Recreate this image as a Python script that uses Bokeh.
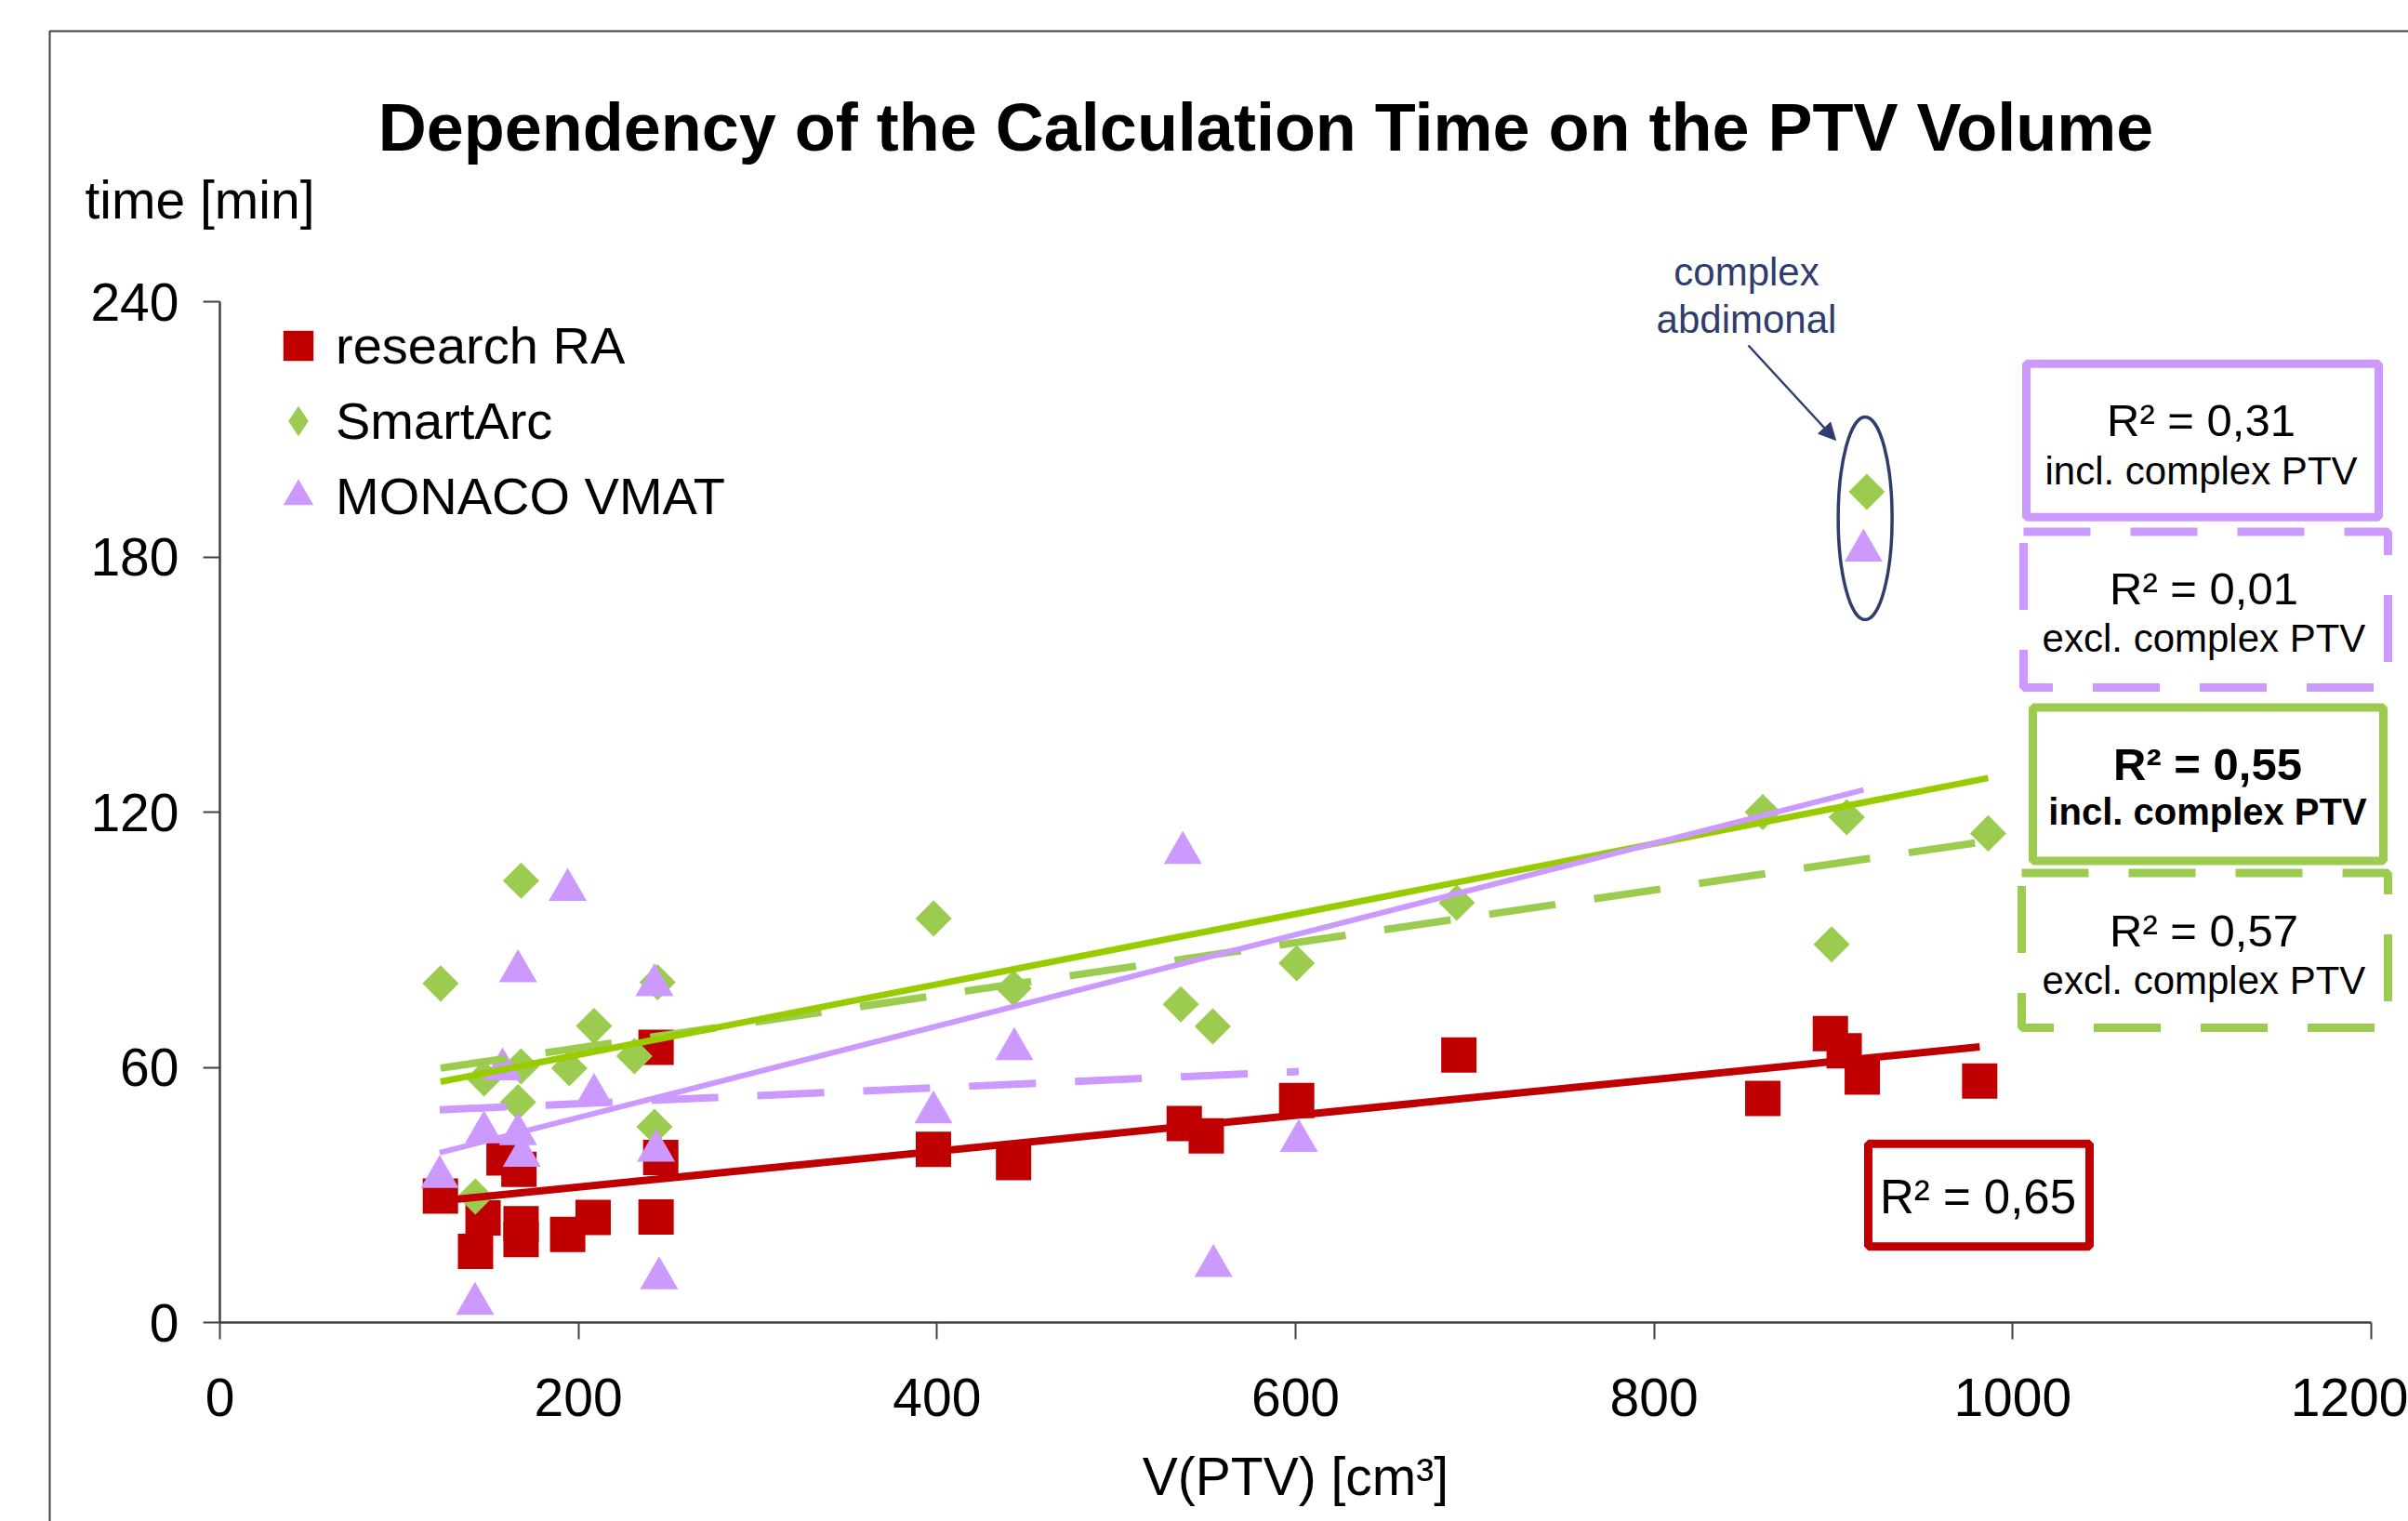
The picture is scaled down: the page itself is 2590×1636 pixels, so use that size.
import math
from bokeh.plotting import figure
from bokeh.models import (Range1d, FixedTicker, Label, BoxAnnotation, Arrow, NormalHead,
                          Legend, LegendItem)
from bokeh.embed import file_html
from bokeh.resources import INLINE

# ---------------- data ----------------
x_ticks = [0, 200, 400, 600, 800, 1000, 1200]
y_ticks = [0, 60, 120, 180, 240]

series_names = ["research RA", "SmartArc", "MONACO VMAT"]

ra_x = [123.0, 142.6, 146.8, 158.5, 166.8, 168.0, 168.0, 194.0, 208.2, 243.3, 243.3, 245.9,
        398.0, 442.7, 537.9, 550.2, 600.6, 691.1, 860.6, 898.3, 906.0, 916.1, 981.6]
ra_y = [29.7, 16.7, 24.6, 38.7, 36.0, 23.2, 19.5, 20.7, 24.7, 64.7, 24.8, 38.8,
        40.7, 37.6, 46.8, 43.9, 52.2, 62.9, 52.7, 67.9, 63.9, 57.7, 56.8]

sa_x = [123.1, 142.5, 147.3, 166.3, 168.0, 168.0, 194.9, 208.7, 231.2, 242.4, 244.1,
        398.1, 442.7, 536.0, 553.8, 600.6, 689.9, 860.6, 899.0, 907.4, 918.6, 986.3]
sa_y = [79.7, 29.6, 57.4, 51.8, 60.2, 103.9, 59.8, 69.7, 62.6, 46.0, 80.0,
        95.0, 78.6, 74.8, 69.6, 84.5, 98.7, 120.0, 88.9, 118.8, 195.3, 115.0]

mo_x = [122.6, 142.3, 147.3, 157.7, 166.3, 166.3, 168.4, 194.0, 208.7, 242.4, 243.3, 245.0,
        398.0, 443.1, 537.1, 554.2, 601.8, 916.8]
mo_y = [35.5, 5.7, 46.0, 60.8, 83.9, 45.6, 40.5, 103.0, 54.8, 80.6, 41.7, 11.7,
        50.7, 65.6, 111.7, 14.6, 44.0, 182.8]

SA_COMPLEX = 20   # index of the complex abdominal case in SmartArc
MO_COMPLEX = 17   # index of the complex abdominal case in MONACO VMAT

# linear trend lines: value at first and last x of the fitted set
ra_fit = [28.6, 64.8]
sa_fit_incl = [56.6, 128.0]
sa_fit_excl = [59.8, 113.2]
mo_fit_incl = [39.9, 125.2]
mo_fit_excl = [50.0, 59.0]

r2_texts = ["R² = 0,31", "R² = 0,01", "R² = 0,55", "R² = 0,57"]
r2_notes = ["incl. complex PTV", "excl. complex PTV", "incl. complex PTV", "excl. complex PTV"]
r2_ra_text = "R² = 0,65"

# ---------------- style / layout ----------------
RED = "#C00000"
GREEN = "#9BCC50"
GREEN_LINE = "#99CC00"
PURPLE = "#CC99FF"
NAVY = "#313C6E"
AXIS = "#404040"
FONT = "Liberation Sans"

W, H = 2590, 1636
ORIG_X, ORIG_Y = 236, 1422          # page position of the (0, 0) corner of the axes
AX_X_PX = 2314.0                    # pixel length of 0..1200
AX_Y_PX = 1098.0                    # pixel length of 0..240
sx = AX_X_PX / 1200.0
sy = AX_Y_PX / 240.0
BASE_FIX = 0.38                     # label baseline correction (fraction of font size)


def ux(px):
    return (px - ORIG_X) / sx


def uy(py):
    return (ORIG_Y - py) / sy


def text_label(px, base, text, size, color="black", style="normal", align="center"):
    return Label(x=ux(px), y=uy(base - BASE_FIX * size), text=text, text_font=FONT,
                 text_font_size=f"{size}px", text_font_style=style, text_color=color,
                 text_align=align, text_baseline="alphabetic")


p = figure(width=W, height=H, x_range=Range1d(ux(0), ux(W)), y_range=Range1d(uy(H), uy(0)),
           output_backend="svg", toolbar_location=None, min_border=0)
p.outline_line_color = None
p.grid.visible = False
p.background_fill_color = "white"
p.border_fill_color = "white"

for ax in (p.xaxis[0], p.yaxis[0]):
    ax.fixed_location = 0
    ax.axis_line_color = AXIS
    ax.axis_line_width = 2.5
    ax.major_tick_line_color = AXIS
    ax.major_tick_line_width = 2
    ax.major_tick_out = 18
    ax.major_tick_in = 0
    ax.minor_tick_line_color = None
    ax.major_label_text_font = FONT
    ax.major_label_text_font_size = "57px"
    ax.major_label_text_color = "black"

p.xaxis.bounds = (0, 1200)
p.yaxis.bounds = (0, 240)
p.xaxis.ticker = FixedTicker(ticks=x_ticks)
p.yaxis.ticker = FixedTicker(ticks=y_ticks)
p.xaxis.major_label_standoff = 42
p.yaxis.major_label_standoff = 26
p.xaxis.axis_label = "V(PTV) [cm³]"
p.xaxis.axis_label_text_font = FONT
p.xaxis.axis_label_text_font_size = "57px"
p.xaxis.axis_label_text_font_style = "normal"
p.xaxis.axis_label_text_color = "black"
p.xaxis.axis_label_standoff = 30

# ---------------- markers ----------------
TRI_SIZE = 41
tri_shift = (TRI_SIZE * math.sqrt(3) / 2 / 6) / sy
mo_y_plot = [v - tri_shift for v in mo_y]

r_ra = p.scatter(ra_x, ra_y, marker="square", size=38, fill_color=RED, line_color=None)
# diamond glyph for the legend key (hidden beneath the first SmartArc marker)
legend_sa = p.scatter(sa_x[:1], sa_y[:1], marker="diamond", size=38, fill_color=GREEN, line_color=None)
r_sa = p.scatter(sa_x, sa_y, marker="square", angle=math.pi / 4, size=27.6,
                 fill_color=GREEN, line_color=None)
r_mo = p.scatter(mo_x, mo_y_plot, marker="triangle", size=TRI_SIZE, fill_color=PURPLE, line_color=None)

# ---------------- trend lines ----------------
sa_x_ex = [v for i, v in enumerate(sa_x) if i != SA_COMPLEX]
mo_x_ex = [v for i, v in enumerate(mo_x) if i != MO_COMPLEX]

p.line([min(ra_x), max(ra_x)], ra_fit, line_color=RED, line_width=8)
p.line([min(sa_x_ex), max(sa_x_ex)], sa_fit_excl, line_color=GREEN, line_width=8, line_dash="72 42")
p.line([min(mo_x_ex), max(mo_x_ex)], mo_fit_excl, line_color=PURPLE, line_width=8, line_dash="72 42")
p.line([min(sa_x), max(sa_x)], sa_fit_incl, line_color=GREEN_LINE, line_width=7)
p.line([min(mo_x), max(mo_x)], mo_fit_incl, line_color=PURPLE, line_width=6)

# ---------------- complex abdominal annotation ----------------
cx = (sa_x[SA_COMPLEX] + mo_x[MO_COMPLEX]) / 2
cy = (sa_y[SA_COMPLEX] + mo_y[MO_COMPLEX]) / 2
p.ellipse(x=[cx], y=[cy], width=58, height=218, width_units="screen", height_units="screen",
          fill_color=None, line_color=NAVY, line_width=3.5)
p.add_layout(Arrow(x_start=ux(1880), y_start=uy(371), x_end=ux(1974), y_end=uy(473),
                   line_color=NAVY, line_width=2.5,
                   end=NormalHead(size=18, fill_color=NAVY, line_color=NAVY)))
for txt, base in (("complex", 308), ("abdimonal", 359)):
    p.add_layout(text_label(1878, base, txt, 42, color=NAVY))

# ---------------- R² boxes ----------------
boxes = [
    # left, right, top, bottom (page px), colour, dash, text cx, base1, base2, weight, note size
    (2179, 2558, 390.7, 555.7, PURPLE, "solid", 2367, 470.5, 522, "normal", 42),
    (2176, 2568, 571.5, 739.0, PURPLE, "72 43", 2370, 651, 702, "normal", 42),
    (2186, 2563, 760.5, 925.6, GREEN, "solid", 2374, 840, 888, "bold", 40),
    (2174, 2568, 938.5, 1105.0, GREEN, "72 43", 2370, 1019, 1070, "normal", 42),
]
for (l, r, t, b, col, dash, tcx, b1, b2, wt, ns), t1, t2 in zip(boxes, r2_texts, r2_notes):
    p.add_layout(BoxAnnotation(left=ux(l), right=ux(r), top=uy(t), bottom=uy(b),
                               fill_color="white", fill_alpha=1.0, line_color=col,
                               line_width=9, line_dash=dash, line_alpha=1.0))
    p.add_layout(text_label(tcx, b1, t1, 49, style=wt))
    p.add_layout(text_label(tcx, b2, t2, ns, style=wt))

p.add_layout(BoxAnnotation(left=ux(2009), right=ux(2247), top=uy(1229.7), bottom=uy(1340.3),
                           fill_color="white", fill_alpha=1.0, line_color=RED, line_width=9,
                           line_alpha=1.0))
p.add_layout(text_label(2127, 1306.7, r2_ra_text, 51))

# ---------------- titles ----------------
p.add_layout(text_label(1361, 164, "Dependency of the Calculation Time on the PTV Volume", 72,
                        style="bold"))
p.add_layout(text_label(91, 236, "time [min]", 57, align="left"))

# chart-area border (left and top edges visible)
p.add_layout(BoxAnnotation(left=ux(53), top=uy(33), right=ux(W + 40), bottom=uy(H + 40),
                           fill_alpha=0, line_color=AXIS, line_width=2, line_alpha=1.0))

# ---------------- legend ----------------
legend = Legend(items=[LegendItem(label=series_names[0], renderers=[r_ra]),
                       LegendItem(label=series_names[1], renderers=[legend_sa]),
                       LegendItem(label=series_names[2], renderers=[r_mo])],
                location=(280, H - 573.5), glyph_width=81, glyph_height=81, spacing=0,
                label_standoff=0, padding=0, margin=0, border_line_color=None,
                background_fill_alpha=0, label_text_font=FONT, label_text_font_size="56px",
                label_text_color="black")
p.add_layout(legend)

open("out.html", "w").write(file_html(p, INLINE))
